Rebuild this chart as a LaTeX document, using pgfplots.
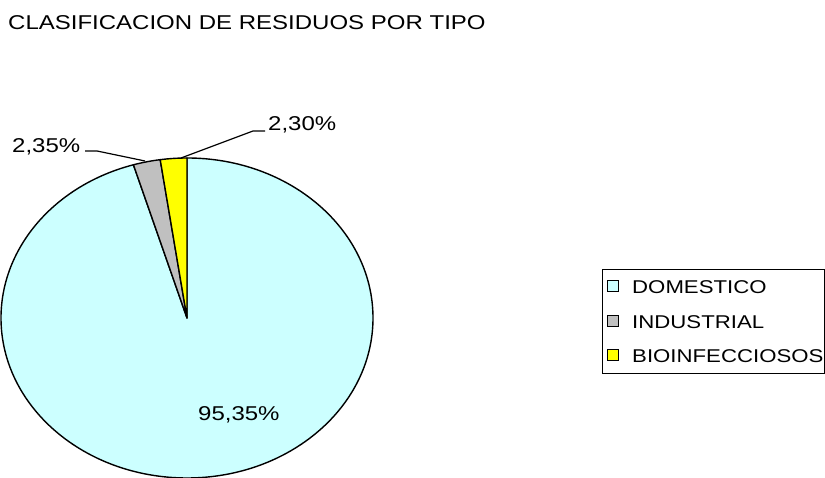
\documentclass[border=0pt]{standalone}
\usepackage{pgfplots}
\usepackage{pgfplotstable}
\usepackage{graphicx}
\usepackage{fontspec}
\setmainfont{Liberation Sans}
\pgfplotsset{compat=1.18}
\definecolor{domc}{HTML}{CCFFFF}
\definecolor{indc}{HTML}{C0C0C0}
\definecolor{bioc}{HTML}{FFFF00}
\pgfplotstableread[row sep=\\]{
label value\\
DOMESTICO 95.35\\
INDUSTRIAL 2.35\\
BIOINFECCIOSOS 2.30\\
}\piedata
\newcommand\stx[2]{\scalebox{1.2}[1]{\fontsize{#1}{#1}\selectfont #2}}
\pgfplotstablegetelem{0}{value}\of\piedata \let\vA\pgfplotsretval
\pgfplotstablegetelem{1}{value}\of\piedata \let\vB\pgfplotsretval
\pgfplotstablegetelem{2}{value}\of\piedata \let\vC\pgfplotsretval
\pgfmathsetmacro\aA{90}
\pgfmathsetmacro\aB{\aA-3.6*\vA}
\pgfmathsetmacro\aC{\aB-3.6*\vB}
\pgfmathsetmacro\aD{\aC-3.6*\vC}
\pgfmathsetmacro\xA{187+186*cos(\aA)}\pgfmathsetmacro\yA{160+160*sin(\aA)}
\pgfmathsetmacro\xB{187+186*cos(\aB)}\pgfmathsetmacro\yB{160+160*sin(\aB)}
\pgfmathsetmacro\xC{187+186*cos(\aC)}\pgfmathsetmacro\yC{160+160*sin(\aC)}
\begin{document}
\begin{tikzpicture}
\begin{axis}[
  name=main,
  scale only axis, width=825pt, height=478pt,
  xmin=0, xmax=825, ymin=0, ymax=478,
  hide axis,
]
\addplot[draw=none] coordinates {(0,0) (825,478)};
% wedges
\filldraw[fill=domc, draw=black, line width=1.4pt, line join=round]
  (axis cs:187,160) -- (axis cs:\xA,\yA)
  arc[start angle=\aA, end angle=\aB, x radius=186pt, y radius=160pt] -- cycle;
\filldraw[fill=indc, draw=black, line width=1.4pt, line join=round]
  (axis cs:187,160) -- (axis cs:\xB,\yB)
  arc[start angle=\aB, end angle=\aC, x radius=186pt, y radius=160pt] -- cycle;
\filldraw[fill=bioc, draw=black, line width=1.4pt, line join=round]
  (axis cs:187,160) -- (axis cs:\xC,\yC)
  arc[start angle=\aC, end angle=\aD, x radius=186pt, y radius=160pt] -- cycle;
% title
\node[anchor=base west, inner sep=0] at (axis cs:8,448) {\stx{20}{CLASIFICACION DE RESIDUOS POR TIPO}};
% labels
\node[anchor=base west, inner sep=0] at (axis cs:12,325.5) {\stx{20}{2,35\%}};
\node[anchor=base west, inner sep=0] at (axis cs:268,347.3) {\stx{20}{2,30\%}};
\node[anchor=base west, inner sep=0] at (axis cs:198,57.3) {\stx{20}{95,35\%}};
\draw[line width=1.2pt] (axis cs:85,327) -- (axis cs:97,327) -- (axis cs:145,317);
\draw[line width=1.2pt] (axis cs:265,347) -- (axis cs:253,347) -- (axis cs:181,320);
% legend
\draw[line width=1pt, fill=white] (axis cs:602,208) rectangle (axis cs:824,104);
\filldraw[fill=domc, draw=black, line width=1pt] (axis cs:607,186) rectangle (axis cs:618,197);
\filldraw[fill=indc, draw=black, line width=1pt] (axis cs:607,151) rectangle (axis cs:618,162);
\filldraw[fill=bioc, draw=black, line width=1pt] (axis cs:607,117) rectangle (axis cs:618,128);
\node[anchor=base west, inner sep=0] at (axis cs:632,184.7) {\stx{18.5}{DOMESTICO}};
\node[anchor=base west, inner sep=0] at (axis cs:632,149.7) {\stx{18.5}{INDUSTRIAL}};
\node[anchor=base west, inner sep=0] at (axis cs:632,115.7) {\stx{18.5}{BIOINFECCIOSOS}};
\end{axis}
\pgfresetboundingbox
\useasboundingbox (main.south west) rectangle (main.north east);
\end{tikzpicture}
\end{document}
